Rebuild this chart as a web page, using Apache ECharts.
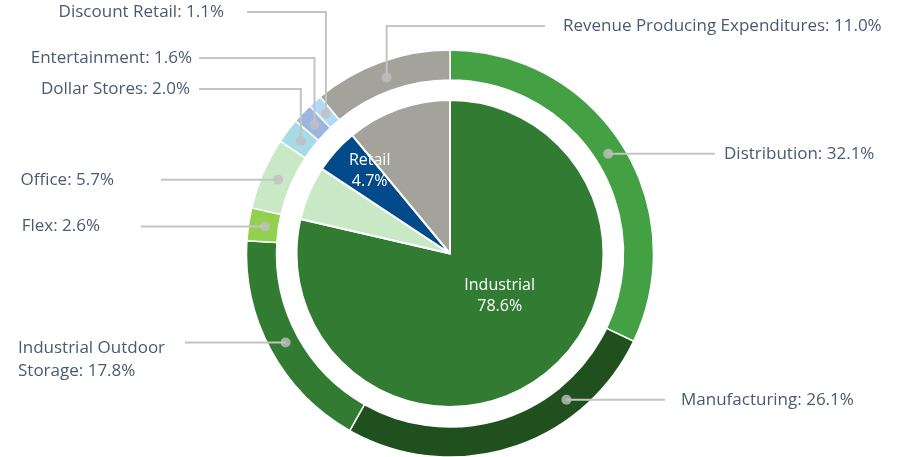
<!DOCTYPE html>
<html><head><meta charset="utf-8">
<script src="https://cdn.jsdelivr.net/npm/echarts@6/dist/echarts.min.js"></script>
<style>html,body{margin:0;padding:0;background:#fff}#c{width:907px;height:457px}</style>
</head><body><div id="c"></div>
<script>
// ---- data ----
const innerNames = ['Industrial', 'Office', 'Retail', 'Revenue Producing Expenditures'];
const innerValues = [78.6, 5.7, 4.7, 11.0];
const outerNames = ['Distribution', 'Manufacturing', 'Industrial Outdoor Storage', 'Flex', 'Office',
  'Dollar Stores', 'Entertainment', 'Discount Retail', 'Revenue Producing Expenditures'];
const outerValues = [32.1, 26.1, 17.8, 2.6, 5.7, 2.0, 1.6, 1.1, 11.0];

// ---- styles / layout ----
const innerColors = ['#327b32', '#c9e9c6', '#034a8a', '#a3a29b'];
const outerColors = ['#43a143', '#21501f', '#327b32', '#92d050', '#c9e9c6', '#a7dbe5', '#9db6e0', '#b3d9f9', '#a3a29b'];
const innerLabelShown = [true, false, true, false];
const innerLabelOffset = [[0, -20], null, [-21, -29], null];
const CX = 450, CY = 253.5, R_OUT = 203.5, R_RING_IN = 173.5, R_PIE = 153.5, R_DOT = 187;
const FONT = 'Open Sans';
const TEXT_COLOR = '#4a5a72';
// per outer label: elbow y (null = straight), line end x, text x, align, anchor override (% of circle)
const outerLabelLayout = [
  { ey: null, ex: 715, tx: 724, align: 'left' },
  { ey: null, ex: 665, tx: 681, align: 'left', anchor: 39.3 },
  { ey: null, ex: 185, tx: 18, align: 'left', ty: 337, va: 'top' },
  { ey: null, ex: 141, tx: 100, align: 'right' },
  { ey: null, ex: 161, tx: 114, align: 'right' },
  { ey: 89, ex: 199, tx: 190, align: 'right' },
  { ey: 58, ex: 199, tx: 192, align: 'right' },
  { ey: 12, ex: 247, tx: 224, align: 'right' },
  { ey: 26, ex: 545, tx: 563, align: 'left' }
];

const total = outerValues.reduce((a, b) => a + b, 0);
const anchorPct = [];
let acc = 0;
outerValues.forEach((v, i) => {
  const mid = (acc + v / 2) / total * 100;
  anchorPct.push(outerLabelLayout[i].anchor != null ? outerLabelLayout[i].anchor : mid);
  acc += v;
});

function anchorPoint(i) {
  const a = anchorPct[i] / 100 * Math.PI * 2;
  return [CX + R_DOT * Math.sin(a), CY - R_DOT * Math.cos(a)];
}

const chart = echarts.init(document.getElementById('c'), null, { renderer: 'canvas' });
chart.setOption({
  animation: false,
  backgroundColor: '#ffffff',
  polar: { center: [CX, CY], radius: R_OUT },
  angleAxis: { type: 'value', min: 0, max: 100, startAngle: 90, clockwise: true, show: false },
  radiusAxis: { type: 'value', min: 0, max: R_OUT, show: false },
  series: [
    {
      type: 'pie',
      name: 'inner',
      z: 2,
      center: [CX, CY],
      radius: [0, R_PIE],
      startAngle: 90,
      clockwise: true,
      avoidLabelOverlap: false,
      itemStyle: { borderColor: '#ffffff', borderWidth: 2 },
      label: {
        position: 'inside',
        color: '#ffffff',
        fontFamily: FONT,
        fontSize: 16,
        lineHeight: 21,
        formatter: p => p.name + '\n' + p.value.toFixed(1) + '%'
      },
      labelLine: { show: false },
      labelLayout: p => {
        const o = innerLabelOffset[p.dataIndex];
        return o ? { dx: o[0], dy: o[1] } : {};
      },
      emphasis: { disabled: true },
      data: innerNames.map((n, i) => ({
        name: n, value: innerValues[i],
        itemStyle: { color: innerColors[i] },
        label: { show: innerLabelShown[i] }
      }))
    },
    {
      type: 'pie',
      name: 'outer',
      z: 2,
      center: [CX, CY],
      radius: [R_RING_IN, R_OUT],
      startAngle: 90,
      clockwise: true,
      itemStyle: { borderColor: '#ffffff', borderWidth: 1.5 },
      label: { show: false },
      labelLine: { show: false },
      emphasis: { disabled: true },
      data: outerNames.map((n, i) => ({ name: n, value: outerValues[i], itemStyle: { color: outerColors[i] } }))
    },
    {
      // same ring, transparent, only carries the labels + leader lines above the ring
      type: 'pie',
      name: 'outerLabels',
      z: 4,
      silent: true,
      center: [CX, CY],
      radius: [R_RING_IN, R_OUT],
      startAngle: 90,
      clockwise: true,
      avoidLabelOverlap: false,
      itemStyle: { color: 'rgba(0,0,0,0)', borderWidth: 0 },
      label: {
        position: 'outside',
        alignTo: 'none',
        overflow: 'none',
        color: TEXT_COLOR,
        fontFamily: FONT,
        fontSize: 17,
        lineHeight: 23,
        formatter: p => {
          const t = p.name + ': ' + p.value.toFixed(1) + '%';
          return p.name === 'Industrial Outdoor Storage' ? t.replace('Outdoor ', 'Outdoor\n') : t;
        }
      },
      labelLine: { show: true, showAbove: true, lineStyle: { color: '#c4c4c4', width: 2 } },
      labelLayout: p => {
        const i = p.dataIndex;
        const L = outerLabelLayout[i];
        const d = anchorPoint(i);
        let pts, ty;
        if (L.ey == null) {
          ty = d[1];
          pts = [[d[0], d[1]], [(d[0] + L.ex) / 2, d[1]], [L.ex, d[1]]];
        } else {
          ty = L.ey;
          pts = [[d[0], d[1]], [d[0], L.ey], [L.ex, L.ey]];
        }
        return {
          x: L.tx, y: L.ty != null ? L.ty : ty,
          align: L.align, verticalAlign: L.va || 'middle',
          labelLinePoints: pts
        };
      },
      emphasis: { disabled: true },
      data: outerNames.map((n, i) => ({ name: n, value: outerValues[i] }))
    },
    {
      type: 'scatter',
      coordinateSystem: 'polar',
      symbol: 'circle',
      symbolSize: 10,
      z: 6,
      silent: true,
      itemStyle: { color: '#c0c0c0' },
      data: anchorPct.map(a => [R_DOT, a])
    }
  ]
});
</script>
</body></html>
